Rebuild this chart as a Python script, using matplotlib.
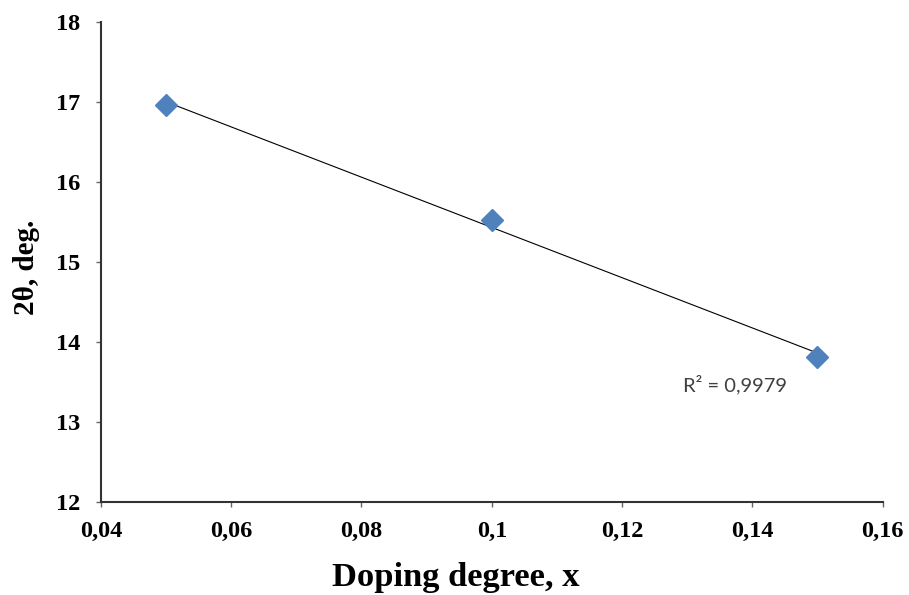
import numpy as np
import matplotlib.pyplot as plt

# data
doping = [0.05, 0.10, 0.15]
two_theta = [16.96, 15.52, 13.82]
x_ticks = [0.04, 0.06, 0.08, 0.10, 0.12, 0.14, 0.16]
x_tick_labels = ["0,04", "0,06", "0,08", "0,1", "0,12", "0,14", "0,16"]
y_ticks = [12, 13, 14, 15, 16, 17, 18]
r2_text = "R² = 0,9979"


def main():
    plt.rcParams["font.family"] = ["Liberation Serif", "DejaVu Serif"]

    fig = plt.figure(figsize=(9.09, 5.95), dpi=100)
    ax = fig.add_axes([0.111, 0.156, 0.86, 0.807])

    # linear trend line
    k, b = np.polyfit(doping, two_theta, 1)
    xs = np.array([doping[0], doping[-1]])
    ax.plot(xs, k * xs + b, color="black", linewidth=0.8, zorder=2)

    ax.plot(doping, two_theta, linestyle="none", marker="D", markersize=11,
            color="#4F81BD", markeredgecolor="#4F81BD", zorder=3)

    ax.text(0.1293, 13.47, r2_text, fontsize=14.5, family=["Lato", "DejaVu Sans"],
            color="#404040", ha="left", va="center")

    ax.set_xlim(0.04, 0.16)
    ax.set_ylim(12, 18)
    ax.set_xticks(x_ticks)
    ax.set_xticklabels(x_tick_labels)
    ax.set_yticks(y_ticks)

    for side in ["top", "right"]:
        ax.spines[side].set_visible(False)
    for side in ["left", "bottom"]:
        ax.spines[side].set_linewidth(1.5)
        ax.spines[side].set_color("#333333")

    ax.tick_params(axis="both", direction="out", length=3.6, width=1,
                   color="#666666", labelsize=17.5)
    ax.tick_params(axis="x", pad=10)
    ax.tick_params(axis="y", pad=11)
    for lab in ax.get_xticklabels() + ax.get_yticklabels():
        lab.set_fontweight("bold")

    ax.set_xlabel("Doping degree, x", fontsize=24.8, fontweight="bold")
    ax.xaxis.set_label_coords(0.454, -0.125)
    ax.set_ylabel("2θ, deg.", fontsize=21, fontweight="bold")
    ax.yaxis.set_label_coords(-0.078, 0.49)

    fig.savefig("out.png", dpi=100)
    plt.close(fig)


if __name__ == "__main__":
    main()
